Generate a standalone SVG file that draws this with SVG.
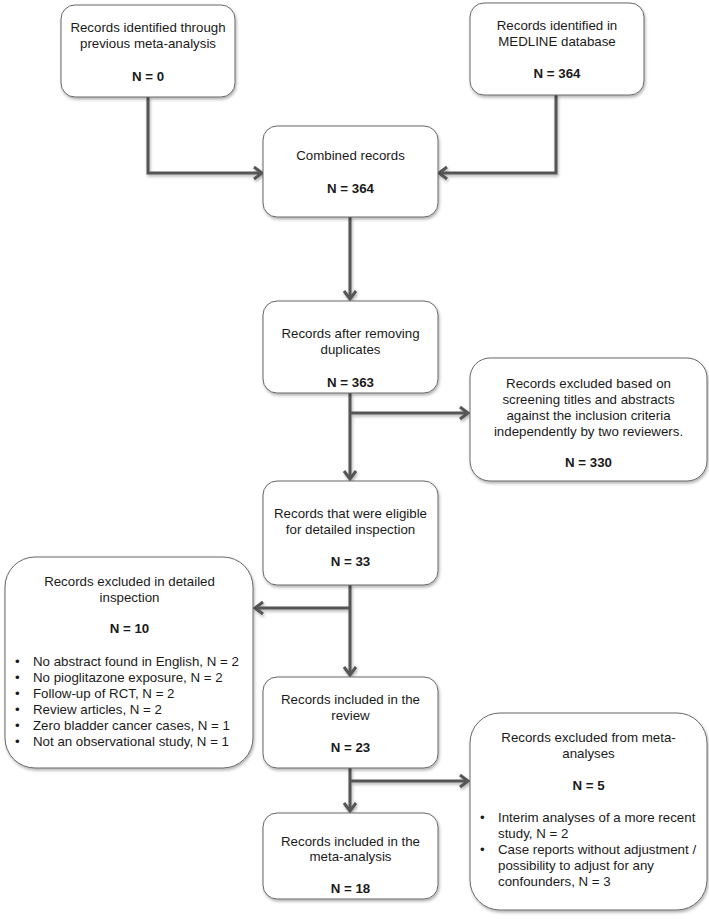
<svg xmlns="http://www.w3.org/2000/svg" width="709" height="919" viewBox="0 0 709 919">
<defs>
<filter id="sh" x="-10%" y="-10%" width="130%" height="130%">
<feDropShadow dx="1" dy="2" stdDeviation="1.5" flood-color="#000" flood-opacity="0.3"/>
</filter>
<marker id="ah" markerWidth="14" markerHeight="16" refX="10" refY="7" orient="auto" markerUnits="userSpaceOnUse">
<path d="M2,1 L10,7 L2,13" fill="none" stroke="#555" stroke-width="3"/>
</marker>
<style>
.box{fill:#fff;stroke:#666;stroke-width:1;filter:url(#sh)}
text{font-family:"Liberation Sans",Arial,sans-serif;font-size:13.3px;fill:#1a1a1a}
.c{text-anchor:middle}
.b{font-weight:bold}
.con{fill:none;stroke:#555;stroke-width:3;marker-end:url(#ah)}
</style>
</defs>
<rect width="709" height="919" fill="#fff"/>
<g id="connectors" filter="url(#sh)">
<path class="con" d="M148,97 V173 H262"/>
<path class="con" d="M556,95 V173 H439"/>
<path class="con" d="M350,217 V299"/>
<path class="con" d="M350,393 V479"/>
<path class="con" d="M350,413 H468"/>
<path class="con" d="M350,585 V675"/>
<path class="con" d="M350,608 H255"/>
<path class="con" d="M350,768 V811"/>
<path class="con" d="M350,781 H468"/>
</g>
<g id="n1">
<rect class="box" x="61" y="5" width="174" height="92" rx="14"/>
<text class="c" x="148" y="31.5">Records identified through</text>
<text class="c" x="148" y="47.5">previous meta-analysis</text>
<text class="c b" x="148" y="80.5">N = 0</text>
</g>
<g id="n2">
<rect class="box" x="470" y="3" width="174" height="92" rx="14"/>
<text class="c" x="557" y="29.5">Records identified in</text>
<text class="c" x="557" y="45.5">MEDLINE database</text>
<text class="c b" x="557" y="78">N = 364</text>
</g>
<g id="n3">
<rect class="box" x="263" y="126" width="175" height="91" rx="14"/>
<text class="c" x="350.5" y="159.5">Combined records</text>
<text class="c b" x="350.5" y="192.5">N = 364</text>
</g>
<g id="n4">
<rect class="box" x="263" y="301" width="175" height="92" rx="14"/>
<text class="c" x="350.5" y="337.5">Records after removing</text>
<text class="c" x="350.5" y="353.5">duplicates</text>
<text class="c b" x="350.5" y="386.5">N = 363</text>
</g>
<g id="n5">
<rect class="box" x="470" y="358" width="237" height="123" rx="20"/>
<text class="c" x="588.5" y="387.5">Records excluded based on</text>
<text class="c" x="588.5" y="403.5">screening titles and abstracts</text>
<text class="c" x="588.5" y="419.5">against the inclusion criteria</text>
<text class="c" x="588.5" y="435.5">independently by two reviewers.</text>
<text class="c b" x="588.5" y="466.5">N = 330</text>
</g>
<g id="n6">
<rect class="box" x="263" y="481" width="175" height="104" rx="14"/>
<text class="c" x="350.5" y="517.5">Records that were eligible</text>
<text class="c" x="350.5" y="533.5">for detailed inspection</text>
<text class="c b" x="350.5" y="565.5">N = 33</text>
</g>
<g id="n7">
<rect class="box" x="5" y="557" width="248" height="211" rx="30"/>
<text class="c" x="129.5" y="585.5">Records excluded in detailed</text>
<text class="c" x="129.5" y="601.5">inspection</text>
<text class="c b" x="129.5" y="632.5">N = 10</text>
<text x="15" y="665.5">•</text><text x="33" y="665.5">No abstract found in English, N = 2</text>
<text x="15" y="681.5">•</text><text x="33" y="681.5">No pioglitazone exposure, N = 2</text>
<text x="15" y="697.5">•</text><text x="33" y="697.5">Follow-up of RCT, N = 2</text>
<text x="15" y="713.5">•</text><text x="33" y="713.5">Review articles, N = 2</text>
<text x="15" y="729.5">•</text><text x="33" y="729.5">Zero bladder cancer cases, N = 1</text>
<text x="15" y="745.5">•</text><text x="33" y="745.5">Not an observational study, N = 1</text>
</g>
<g id="n8">
<rect class="box" x="263" y="677" width="175" height="91" rx="14"/>
<text class="c" x="350.5" y="703.5">Records included in the</text>
<text class="c" x="350.5" y="719.5">review</text>
<text class="c b" x="350.5" y="751.5">N = 23</text>
</g>
<g id="n9">
<rect class="box" x="470" y="713" width="237" height="197" rx="30"/>
<text class="c" x="588.5" y="741.5">Records excluded from meta-</text>
<text class="c" x="588.5" y="757.5">analyses</text>
<text class="c b" x="588.5" y="789.5">N = 5</text>
<text x="480" y="821.5">•</text><text x="498" y="821.5">Interim analyses of a more recent</text>
<text x="498" y="837.5">study, N = 2</text>
<text x="480" y="853.5">•</text><text x="498" y="853.5">Case reports without adjustment /</text>
<text x="498" y="869.5">possibility to adjust for any</text>
<text x="498" y="885.5">confounders, N = 3</text>
</g>
<g id="n10">
<rect class="box" x="263" y="813" width="175" height="86" rx="14"/>
<text class="c" x="350.5" y="845.5">Records included in the</text>
<text class="c" x="350.5" y="860.5">meta-analysis</text>
<text class="c b" x="350.5" y="892.5">N = 18</text>
</g>
</svg>
